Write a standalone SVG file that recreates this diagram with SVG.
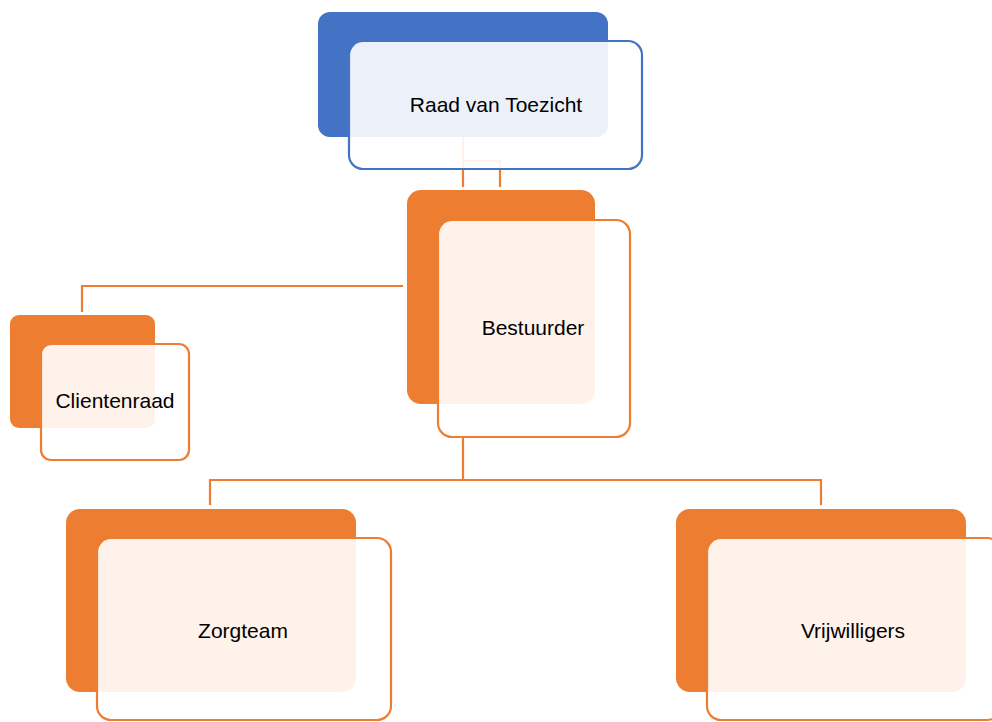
<svg xmlns="http://www.w3.org/2000/svg" width="992" height="722" viewBox="0 0 992 722">
<style>
.conn{fill:none;stroke:#ED7D31;stroke-width:2.2}
.backB{fill:#4472C4}
.frontB{fill:#fff;fill-opacity:0.9;stroke:#4472C4;stroke-width:2.2}
.backO{fill:#ED7D31}
.frontO{fill:#fff;fill-opacity:0.9;stroke:#ED7D31;stroke-width:2.2}
.lbl{font-family:"Liberation Sans",Arial,sans-serif;font-size:21px;fill:#000;text-anchor:middle}
</style>
<rect width="992" height="722" fill="#fff"/>
<g id="connectors">
<path class="conn" d="M463,137 V187 M463,161 H500 V187"/>
<path class="conn" d="M403,286 H82 V312"/>
<path class="conn" d="M463,437 V480 M210,505 V480 H821 V505"/>
</g>
<g id="raad">
<rect class="backB" x="318" y="12" width="290" height="125" rx="12"/>
<rect class="frontB" x="349" y="41" width="293" height="128" rx="14"/>
<text class="lbl" x="496" y="112">Raad van Toezicht</text>
</g>
<g id="bestuurder">
<rect class="backO" x="407" y="190" width="188" height="214" rx="14"/>
<rect class="frontO" x="438" y="220" width="192" height="217" rx="14"/>
<text class="lbl" x="533" y="335">Bestuurder</text>
</g>
<g id="clientenraad">
<rect class="backO" x="10" y="315" width="145" height="113" rx="9"/>
<rect class="frontO" x="41" y="344" width="148" height="116" rx="10"/>
<text class="lbl" x="115" y="408">Clientenraad</text>
</g>
<g id="zorgteam">
<rect class="backO" x="66" y="509" width="290" height="183" rx="14"/>
<rect class="frontO" x="97" y="538" width="294" height="182" rx="14"/>
<text class="lbl" x="243" y="638">Zorgteam</text>
</g>
<g id="vrijwilligers">
<rect class="backO" x="676" y="509" width="290" height="183" rx="14"/>
<rect class="frontO" x="707" y="538" width="294" height="182" rx="14"/>
<text class="lbl" x="853" y="638">Vrijwilligers</text>
</g>
</svg>
